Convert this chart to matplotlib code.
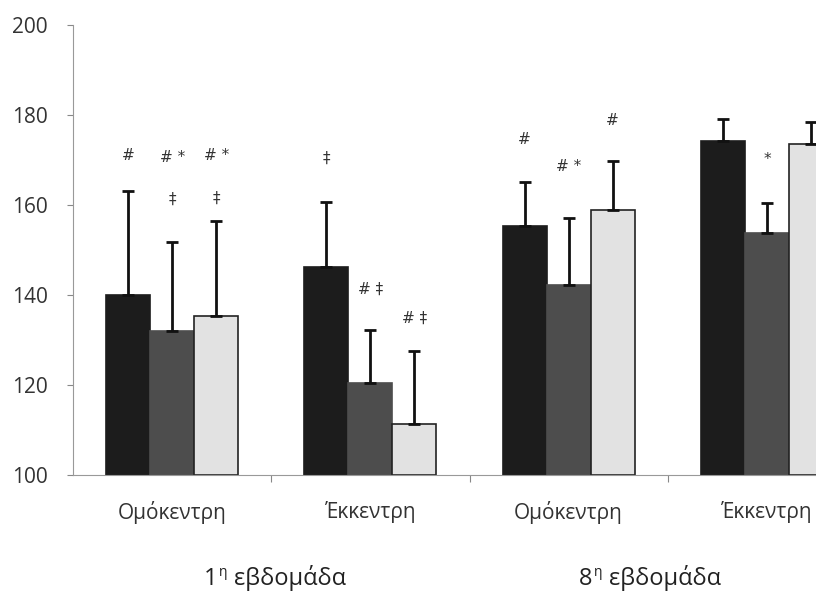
import matplotlib
matplotlib.use("Agg")
import matplotlib.pyplot as plt
import numpy as np

plt.rcParams['font.family'] = ['Open Sans', 'DejaVu Sans']

categories = ["Ομόκεντρη", "Έκκεντρη", "Ομόκεντρη", "Έκκεντρη"]
weeks = ["1", "8"]
week_word = "εβδομάδα"
series_a = [140.0, 146.2, 155.3, 174.2]
series_b = [132.0, 120.4, 142.2, 153.8]
series_c = [135.3, 111.3, 158.9, 173.6]
err_a = [23.1, 14.5, 9.8, 4.9]
err_b = [19.8, 11.8, 14.9, 6.6]
err_c = [21.1, 16.2, 10.9, 4.8]
# annotations: (category index, series index, text, y value)
notes = [
    (0, 0, "#", 171.0), (0, 1, "# *", 170.5), (0, 1, "‡", 161.2),
    (0, 2, "# *", 171.0), (0, 2, "‡", 161.5),
    (1, 0, "‡", 170.4), (1, 1, "# ‡", 141.2), (1, 2, "# ‡", 134.8),
    (2, 0, "#", 174.5), (2, 1, "# *", 168.5), (2, 2, "#", 178.8),
    (3, 1, "*", 170.2),
]

fig = plt.figure(figsize=(8.16, 5.92), dpi=100)
ax = fig.add_axes([73/816, 1-475/592, 793/816, 450/592])

x = np.arange(len(categories))
w = 0.222
colors = ["#1c1c1c", "#4d4d4d", "#e2e2e2"]
edges = ["#1c1c1c", "#4d4d4d", "#222222"]
vals = [series_a, series_b, series_c]
errs = [err_a, err_b, err_c]
offs = [-w, 0, w]
for v, e, o, c, ec in zip(vals, errs, offs, colors, edges):
    ax.bar(x + o, np.array(v) - 100, bottom=100, width=w, color=c,
           edgecolor=ec, linewidth=1.2, zorder=2)
    ax.errorbar(x + o, v, yerr=[np.zeros(len(e)), e], fmt='none',
                ecolor='#111111', elinewidth=2, capsize=4, capthick=2, zorder=3)

for ci, si, t, yv in notes:
    ax.text(x[ci] + offs[si], yv, t, ha='center', va='center', fontsize=11,
            color='#333333', family=['DejaVu Sans'])

ax.set_xlim(-0.5, 3.5)
ax.set_ylim(100, 200)
ax.set_yticks([100, 120, 140, 160, 180, 200])
ax.tick_params(axis='y', labelsize=15, length=4, color='#888888', pad=14, labelcolor='#333333')
ax.set_xticks([0.5, 1.5, 2.5])
ax.set_xticklabels([])
ax.tick_params(axis='x', length=5, color='#888888', direction='out')
ax.set_xticks(x, minor=True)
ax.set_xticklabels(categories, minor=True)
ax.tick_params(axis='x', which='minor', length=0, labelsize=15, pad=19, labelcolor='#333333')
for s in ['top', 'right']:
    ax.spines[s].set_visible(False)
ax.spines['left'].set_color('#999999')
ax.spines['bottom'].set_color('#999999')
ax.spines['left'].set_linewidth(0.8)
ax.spines['bottom'].set_linewidth(0.8)

# group labels: number + superscript eta + word, centred on given pixel x
fig.canvas.draw()
renderer = fig.canvas.get_renderer()
W, H = fig.bbox.width, fig.bbox.height
centres_px = [275, 650]
ybase = 1 - 585/592
for cx, wk in zip(centres_px, weeks):
    t1 = fig.text(0, ybase, wk, fontsize=17, color='#222222', va='baseline', ha='left')
    t2 = fig.text(0, ybase, "η", fontsize=10, color='#222222', va='baseline', ha='left')
    t3 = fig.text(0, ybase, week_word, fontsize=17, color='#222222', va='baseline', ha='left')
    w1 = t1.get_window_extent(renderer).width
    w2 = t2.get_window_extent(renderer).width
    w3 = t3.get_window_extent(renderer).width
    gap = 7
    total = w1 + 1 + w2 + gap + w3
    x0 = cx - total / 2
    t1.set_x(x0 / W)
    t2.set_x((x0 + w1 + 1) / W)
    t2.set_y(ybase + 9 / H)
    t3.set_x((x0 + w1 + 1 + w2 + gap) / W)

fig.savefig("out.png", dpi=100)
